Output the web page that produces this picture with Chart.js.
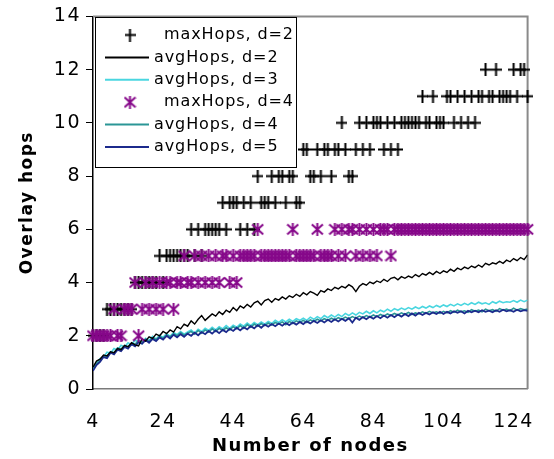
<!DOCTYPE html>
<html>
<head>
<meta charset="utf-8">
<script src="https://cdn.jsdelivr.net/npm/chart.js@4"></script>
<style>
  html, body { margin: 0; padding: 0; background: #fff; }
  #wrap { width: 554px; height: 459px; }
</style>
</head>
<body>
<div id="wrap"><canvas id="hopsChart"></canvas></div>
<script>
// number of nodes in the overlay (x categories)
const nodes = [
  4, 5, 6, 7, 8, 9, 10, 11, 12, 13, 14, 15, 16, 17, 18, 19, 20, 21, 22, 23,
  24, 25, 26, 27, 28, 29, 30, 31, 32, 33, 34, 35, 36, 37, 38, 39, 40, 41, 42, 43,
  44, 45, 46, 47, 48, 49, 50, 51, 52, 53, 54, 55, 56, 57, 58, 59, 60, 61, 62, 63,
  64, 65, 66, 67, 68, 69, 70, 71, 72, 73, 74, 75, 76, 77, 78, 79, 80, 81, 82, 83,
  84, 85, 86, 87, 88, 89, 90, 91, 92, 93, 94, 95, 96, 97, 98, 99, 100, 101, 102, 103,
  104, 105, 106, 107, 108, 109, 110, 111, 112, 113, 114, 115, 116, 117, 118, 119, 120, 121, 122, 123,
  124, 125, 126, 127, 128
];
const xTicks = [4, 24, 44, 64, 84, 104, 124];
const yTicks = [0, 2, 4, 6, 8, 10, 12, 14];

const maxHopsD2 = [
  2, 2, 2, 2, 3, 3, 3, 3, 3, 3,
  3, 3, 4, 4, 4, 4, 4, 4, 4, 5,
  4, 5, 5, 5, 5, 5, 5, 5, 6, 5,
  6, 5, 6, 6, 6, 6, 6, 7, 6, 7,
  7, 7, 6, 7, 6, 7, 6, 8, 7, 7,
  7, 8, 7, 8, 8, 7, 8, 8, 7, 7,
  9, 9, 8, 8, 9, 8, 9, 9, 8, 9,
  9, 10, 9, 8, 8, 9, 10, 9, 10, 9,
  10, 10, 10, 9, 10, 9, 10, 9, 10, 10,
  10, 10, 10, 10, 11, 10, 10, 11, 10, 10,
  10, 11, 11, 10, 11, 10, 11, 10, 11, 10,
  11, 11, 12, 11, 11, 12, 11, 11, 11, 11,
  12, 11, 12, 12, 11
];
const avgHopsD2 = [
  0.82, 1.05, 1.12, 1.28, 1.24, 1.40, 1.36, 1.52, 1.48, 1.64,
  1.58, 1.74, 1.66, 1.62, 1.88, 1.80, 1.96, 1.90, 2.06, 2.00,
  2.16, 2.08, 2.22, 2.14, 2.34, 2.26, 2.44, 2.36, 2.56, 2.44,
  2.62, 2.76, 2.58, 2.70, 2.82, 2.74, 2.90, 2.80, 2.96, 2.88,
  3.06, 2.94, 3.12, 3.04, 3.18, 3.08, 3.24, 3.30, 3.16, 3.32,
  3.38, 3.26, 3.40, 3.34, 3.46, 3.38, 3.50, 3.44, 3.56, 3.48,
  3.62, 3.54, 3.66, 3.60, 3.52, 3.70, 3.64, 3.76, 3.70, 3.82,
  3.76, 3.86, 3.80, 3.92, 3.84, 3.66, 3.86, 3.96, 3.90, 4.02,
  3.96, 4.06, 4.00, 4.12, 4.04, 4.16, 4.20, 4.10, 4.22, 4.16,
  4.24, 4.18, 4.30, 4.22, 4.34, 4.28, 4.38, 4.30, 4.42, 4.34,
  4.44, 4.38, 4.50, 4.42, 4.54, 4.48, 4.58, 4.52, 4.62, 4.56,
  4.66, 4.58, 4.72, 4.66, 4.74, 4.70, 4.80, 4.72, 4.84, 4.78,
  4.90, 4.82, 4.94, 4.86, 5.04
];
const avgHopsD3 = [
  0.80, 0.98, 1.14, 1.20, 1.38, 1.34, 1.52, 1.46, 1.64, 1.58,
  1.74, 1.66, 1.84, 1.76, 1.70, 1.90, 1.82, 1.98, 1.88, 2.02,
  1.94, 2.08, 1.98, 2.12, 2.04, 2.16, 2.06, 2.14, 2.22, 2.10,
  2.24, 2.16, 2.28, 2.20, 2.32, 2.22, 2.34, 2.26, 2.38, 2.28,
  2.40, 2.32, 2.44, 2.36, 2.48, 2.38, 2.50, 2.42, 2.52, 2.44,
  2.54, 2.46, 2.58, 2.50, 2.60, 2.52, 2.62, 2.54, 2.64, 2.58,
  2.66, 2.58, 2.70, 2.62, 2.72, 2.64, 2.76, 2.68, 2.78, 2.70,
  2.80, 2.72, 2.84, 2.76, 2.86, 2.78, 2.88, 2.82, 2.92, 2.84,
  2.94, 2.86, 2.96, 2.90, 3.00, 2.92, 3.02, 2.96, 3.04, 2.98,
  3.06, 3.00, 3.08, 3.02, 3.10, 3.04, 3.12, 3.06, 3.14, 3.08,
  3.16, 3.10, 3.18, 3.12, 3.20, 3.14, 3.22, 3.16, 3.24, 3.18,
  3.26, 3.20, 3.24, 3.18, 3.28, 3.22, 3.30, 3.24, 3.28, 3.26,
  3.32, 3.26, 3.34, 3.28, 3.34
];
const maxHopsD4 = [
  2, 2, 2, 2, 2, 2, 3, 2, 2, 3,
  3, 3, 4, 2, 3, 4, 3, 4, 3, 4,
  3, 4, 4, 3, 4, 4, 5, 4, 4, 5,
  4, 5, 4, 5, 4, 5, 4, 5, 5, 4,
  5, 4, 5, 5, 5, 5, 5, 6, 5, 5,
  5, 5, 5, 5, 5, 5, 5, 6, 5, 5,
  5, 5, 5, 5, 6, 5, 5, 5, 5, 6,
  5, 6, 5, 6, 6, 5, 6, 5, 6, 5,
  6, 5, 6, 6, 6, 5, 6, 6, 6, 6,
  6, 6, 6, 6, 6, 6, 6, 6, 6, 6,
  6, 6, 6, 6, 6, 6, 6, 6, 6, 6,
  6, 6, 6, 6, 6, 6, 6, 6, 6, 6,
  6, 6, 6, 6, 6
];
const avgHopsD4 = [
  0.74, 0.94, 1.06, 1.24, 1.22, 1.40, 1.36, 1.54, 1.50, 1.62,
  1.60, 1.72, 1.68, 1.82, 1.76, 1.88, 1.80, 1.92, 1.86, 1.98,
  1.90, 2.04, 1.96, 2.08, 2.00, 2.12, 2.02, 2.10, 2.16, 2.06,
  2.20, 2.10, 2.22, 2.14, 2.26, 2.16, 2.28, 2.20, 2.30, 2.22,
  2.34, 2.26, 2.38, 2.28, 2.42, 2.32, 2.44, 2.36, 2.46, 2.38,
  2.48, 2.40, 2.50, 2.44, 2.52, 2.42, 2.54, 2.46, 2.56, 2.50,
  2.58, 2.50, 2.60, 2.54, 2.62, 2.56, 2.64, 2.58, 2.66, 2.60,
  2.68, 2.62, 2.70, 2.64, 2.72, 2.66, 2.74, 2.68, 2.76, 2.70,
  2.78, 2.72, 2.80, 2.74, 2.82, 2.76, 2.84, 2.78, 2.86, 2.80,
  2.88, 2.80, 2.86, 2.82, 2.90, 2.84, 2.92, 2.86, 2.90, 2.84,
  2.92, 2.86, 2.94, 2.88, 2.96, 2.90, 2.94, 2.88, 2.98, 2.92,
  2.96, 2.90, 3.00, 2.94, 2.98, 2.92, 3.02, 2.96, 3.00, 2.94,
  3.04, 2.96, 3.02, 2.98, 3.00
];
const avgHopsD5 = [
  0.68, 0.90, 1.02, 1.20, 1.16, 1.36, 1.30, 1.48, 1.42, 1.58,
  1.52, 1.68, 1.60, 1.76, 1.70, 1.84, 1.74, 1.88, 1.80, 1.94,
  1.86, 2.00, 1.90, 2.04, 1.94, 2.06, 1.96, 2.08, 2.00, 2.12,
  2.02, 2.14, 2.06, 2.18, 2.08, 2.20, 2.10, 2.22, 2.14, 2.26,
  2.18, 2.30, 2.20, 2.32, 2.24, 2.36, 2.28, 2.40, 2.30, 2.42,
  2.34, 2.44, 2.36, 2.46, 2.38, 2.48, 2.40, 2.50, 2.42, 2.52,
  2.44, 2.54, 2.46, 2.56, 2.48, 2.58, 2.50, 2.60, 2.52, 2.62,
  2.54, 2.64, 2.56, 2.66, 2.50, 2.68, 2.60, 2.70, 2.62, 2.72,
  2.64, 2.74, 2.66, 2.76, 2.68, 2.78, 2.70, 2.80, 2.72, 2.82,
  2.74, 2.84, 2.76, 2.86, 2.78, 2.86, 2.80, 2.88, 2.82, 2.90,
  2.82, 2.90, 2.84, 2.92, 2.86, 2.92, 2.84, 2.94, 2.88, 2.94,
  2.88, 2.96, 2.90, 2.94, 2.88, 2.96, 2.90, 2.98, 2.92, 2.96,
  2.90, 2.98, 2.92, 2.96, 2.94
];

const colors = {
  maxD2: '#000000',
  avgD2: '#000000',
  avgD3: '#4ad6e0',
  maxD4: '#86088a',
  avgD4: '#2b9696',
  avgD5: '#1c2a8c'
};

// marker glyphs like the old spreadsheet ones
function plusMarker() {
  const c = document.createElement('canvas');
  c.width = 11; c.height = 13;
  const g = c.getContext('2d');
  g.strokeStyle = colors.maxD2;
  g.lineWidth = 2;
  g.beginPath();
  g.moveTo(0, 6.5); g.lineTo(11, 6.5);
  g.moveTo(5.5, 0); g.lineTo(5.5, 13);
  g.stroke();
  return c;
}
function starMarker() {
  const c = document.createElement('canvas');
  c.width = 13; c.height = 13;
  const g = c.getContext('2d');
  g.strokeStyle = colors.maxD4;
  g.lineWidth = 2;
  g.beginPath();
  g.moveTo(1, 1.5); g.lineTo(12, 11.5);
  g.moveTo(12, 1.5); g.lineTo(1, 11.5);
  g.moveTo(6.5, 0); g.lineTo(6.5, 13);
  g.stroke();
  return c;
}
const plusImg = plusMarker();
const starImg = starMarker();

const toPoints = vals => vals.map((v, i) => ({ x: nodes[i], y: v }));

const legendItems = [
  { text: 'maxHops, d=2', kind: 'marker', img: plusImg, textX: 164 },
  { text: 'avgHops, d=2', kind: 'line', color: colors.avgD2, textX: 154 },
  { text: 'avgHops, d=3', kind: 'line', color: colors.avgD3, textX: 154 },
  { text: 'maxHops, d=4', kind: 'marker', img: starImg, textX: 164 },
  { text: 'avgHops, d=4', kind: 'line', color: colors.avgD4, textX: 154 },
  { text: 'avgHops, d=5', kind: 'line', color: colors.avgD5, textX: 154 }
];

const framePlugin = {
  id: 'frame',
  beforeDraw(chart) {
    chart.ctx.letterSpacing = '1.5px';
  },
  beforeDatasetsDraw(chart) {
    const { ctx, chartArea: a } = chart;
    ctx.save();
    ctx.strokeStyle = '#8a8a8a';
    ctx.lineWidth = 2;
    ctx.beginPath();
    ctx.moveTo(a.left, a.top);
    ctx.lineTo(a.right, a.top);
    ctx.lineTo(a.right, a.bottom);
    ctx.stroke();
    ctx.restore();
  },
  afterDraw(chart) {
    const ctx = chart.ctx;
    ctx.save();
    ctx.fillStyle = '#ffffff';
    ctx.fillRect(95, 17, 201, 150);
    ctx.strokeStyle = '#000000';
    ctx.lineWidth = 1;
    ctx.strokeRect(95.5, 17.5, 201, 150);
    ctx.font = '16px "DejaVu Sans"';
    ctx.letterSpacing = '0.9px';
    ctx.textBaseline = 'middle';
    ctx.fillStyle = '#000000';
    legendItems.forEach((item, i) => {
      const y = 35 + i * 22.4;
      if (item.kind === 'line') {
        ctx.strokeStyle = item.color;
        ctx.lineWidth = 2;
        ctx.beginPath();
        ctx.moveTo(105, y);
        ctx.lineTo(149, y);
        ctx.stroke();
      } else {
        ctx.drawImage(item.img, 130 - item.img.width / 2, y - item.img.height / 2);
      }
      ctx.fillText(item.text, item.textX, y);
    });
    ctx.restore();
  }
};

const ctx = document.getElementById('hopsChart').getContext('2d');
new Chart(ctx, {
  type: 'line',
  data: {
    datasets: [
      { label: 'maxHops, d=2', data: toPoints(maxHopsD2), showLine: false, pointStyle: plusImg, order: 1, clip: false },
      { label: 'avgHops, d=2', data: toPoints(avgHopsD2), borderColor: colors.avgD2, borderWidth: 1.4, pointRadius: 0, order: 2 },
      { label: 'avgHops, d=3', data: toPoints(avgHopsD3), borderColor: colors.avgD3, borderWidth: 1.6, pointRadius: 0, order: 5 },
      { label: 'maxHops, d=4', data: toPoints(maxHopsD4), showLine: false, pointStyle: starImg, order: 0, clip: false },
      { label: 'avgHops, d=4', data: toPoints(avgHopsD4), borderColor: colors.avgD4, borderWidth: 1.6, pointRadius: 0, order: 4 },
      { label: 'avgHops, d=5', data: toPoints(avgHopsD5), borderColor: colors.avgD5, borderWidth: 1.8, pointRadius: 0, order: 3 }
    ]
  },
  options: {
    responsive: true,
    maintainAspectRatio: false,
    animation: false,
    layout: { padding: { top: 16, right: 9, left: 0, bottom: 0 } },
    plugins: {
      legend: { display: false },
      tooltip: { enabled: false }
    },
    scales: {
      x: {
        type: 'linear',
        min: 4,
        max: 128,
        afterBuildTicks: axis => { axis.ticks = xTicks.map(v => ({ value: v })); },
        afterFit: axis => { axis.height = 70; },
        grid: { display: false, drawTicks: false },
        border: { color: '#7a7a7a', width: 1.5 },
        ticks: {
          color: '#000',
          padding: 22,
          maxRotation: 0,
          autoSkip: false,
          font: { family: '"DejaVu Sans"', size: 19 }
        },
        title: {
          display: true,
          text: 'Number of nodes',
          color: '#000',
          padding: { top: 0, bottom: 2 },
          font: { family: '"DejaVu Sans"', size: 18, weight: 'bold' }
        }
      },
      y: {
        min: 0,
        max: 14,
        afterBuildTicks: axis => { axis.ticks = yTicks.map(v => ({ value: v })); },
        afterFit: axis => { axis.width = 93; },
        grid: { display: true, drawOnChartArea: false, drawTicks: true, tickLength: 7, color: '#000' },
        border: { color: '#000', width: 1.5 },
        ticks: {
          color: '#000',
          padding: 5,
          font: { family: '"DejaVu Sans"', size: 19 }
        },
        title: {
          display: true,
          text: 'Overlay hops',
          color: '#000',
          padding: { top: 17, bottom: 0 },
          font: { family: '"DejaVu Sans"', size: 17, weight: 'bold' }
        }
      }
    }
  },
  plugins: [framePlugin]
});
</script>
</body>
</html>
